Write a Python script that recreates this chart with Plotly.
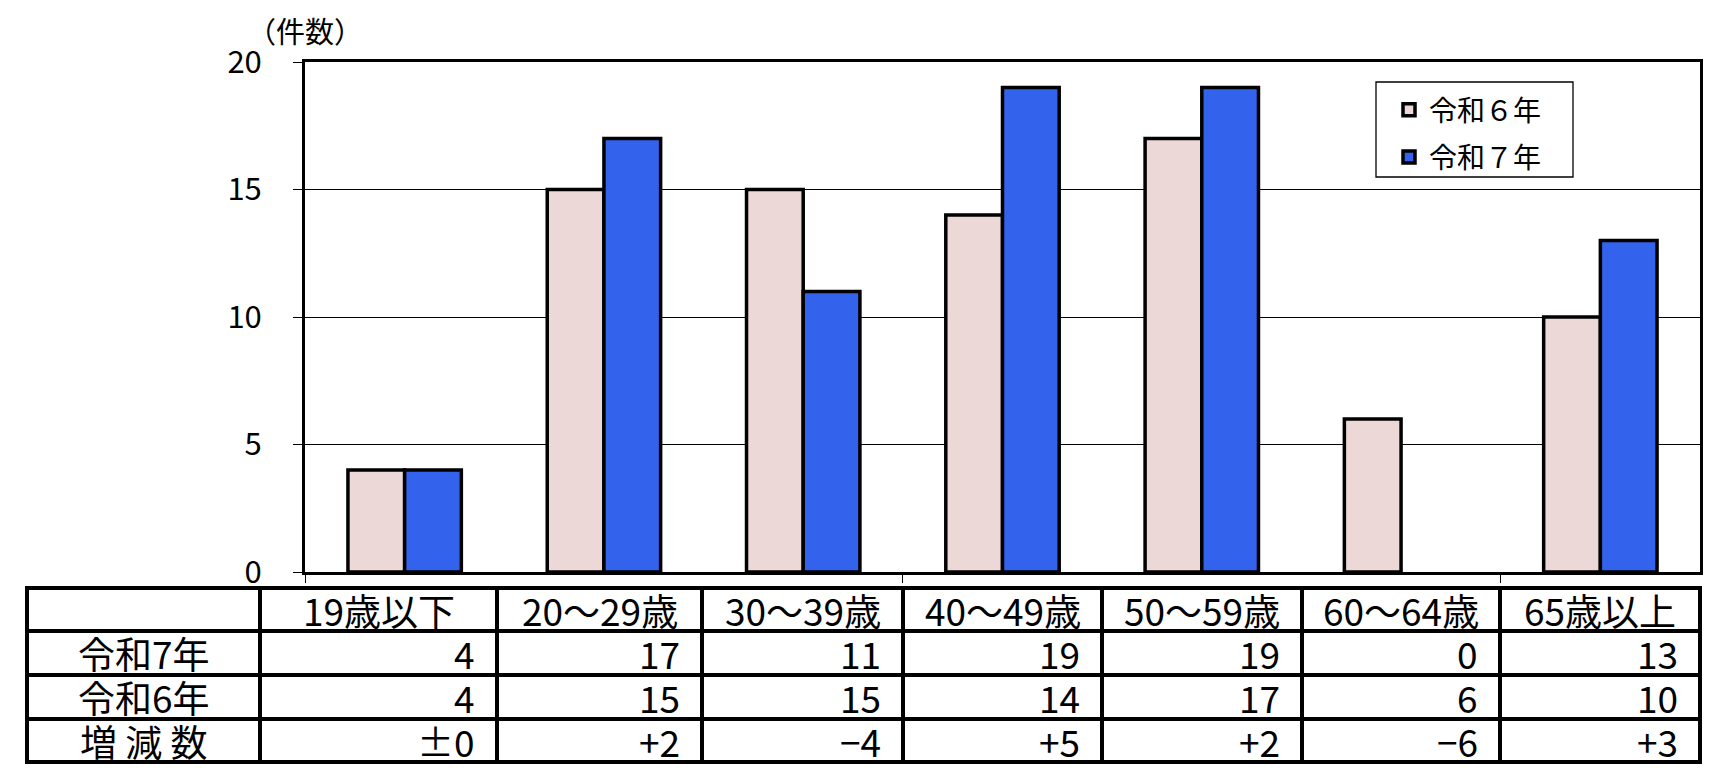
import plotly.graph_objects as go

# ---------------- data ----------------
categories = ["19歳以下", "20～29歳", "30～39歳", "40～49歳", "50～59歳", "60～64歳", "65歳以上"]
r6_values = [4, 15, 15, 14, 17, 6, 10]
r7_values = [4, 17, 11, 19, 19, 0, 13]
series_names = ["令和６年", "令和７年"]
row_labels = ["令和7年", "令和6年", "増 減 数"]
y_ticks = [0, 5, 10, 15, 20]
y_unit_label = "（件数）"

# ---------------- style / layout constants ----------------
OFF = 8                       # browser body margin
W, H = 1732 - 2 * OFF, 780 - 2 * OFF
# plot-area box in page pixels
PL, PR, PT, PB = 305, 1700, 62, 572
FONT = "Noto Sans CJK JP"
PINK = "#ECD9D7"
BLUE = "#3363EC"

# table geometry (page pixels)
col_edges = [27, 260, 497, 702, 903, 1102, 1302, 1500, 1700]
row_edges = [588, 631, 675, 719, 762]
legend_box = (1376, 82, 1573, 177)


def px(xp):
    return (xp - PL) / (PR - PL)


def py(yp):
    return (PB - yp) / (PB - PT)


def fmt_diff(d):
    if d == 0:
        return "±0"
    if d > 0:
        return "+" + str(d)
    return "−" + str(-d)


diff_values = [fmt_diff(a - b) for a, b in zip(r7_values, r6_values)]


def outline_widths(vals):
    return [3.5 if v > 0 else 0 for v in vals]


fig = go.Figure()
fig.add_trace(go.Bar(
    x=categories, y=r6_values, name=series_names[0], legendgroup="a",
    marker=dict(color=PINK, line=dict(color="black", width=outline_widths(r6_values))),
))
fig.add_trace(go.Bar(
    x=categories, y=r7_values, name=series_names[1], legendgroup="b",
    marker=dict(color=BLUE, line=dict(color="black", width=outline_widths(r7_values))),
))

fig.update_layout(
    width=W, height=H,
    margin=dict(l=PL - OFF, r=W - (PR - OFF), t=PT - OFF, b=H - (PB - OFF), pad=0),
    paper_bgcolor="white", plot_bgcolor="white",
    barmode="group", bargap=0.431, bargroupgap=0,
    font=dict(family=FONT, color="black"),
    showlegend=True,
    legend=dict(
        x=px(1389), y=py(85), xanchor="left", yanchor="top",
        bgcolor="rgba(0,0,0,0)", borderwidth=0,
        font=dict(family=FONT, size=28, color="black"),
        tracegroupgap=8, itemwidth=30,
    ),
    xaxis=dict(
        type="category", range=[-0.5, len(categories) - 0.5],
        showline=True, linecolor="black", linewidth=3, mirror=True,
        showgrid=False, zeroline=False,
        tickmode="array", tickvals=[-0.5, 2.5, 5.5], ticktext=["", "", ""],
        ticks="outside", ticklen=8, tickwidth=1, tickcolor="black",
        showticklabels=False,
    ),
    yaxis=dict(
        range=[0, 20], tickmode="array", tickvals=y_ticks,
        showline=True, linecolor="black", linewidth=3, mirror=True,
        showgrid=True, gridcolor="black", gridwidth=1, zeroline=False,
        ticks="outside", ticklen=9, tickwidth=1, tickcolor="black",
        tickfont=dict(family=FONT, size=31, color="black"),
        ticklabelstandoff=25,
    ),
)

# unit label
fig.add_annotation(
    xref="paper", yref="paper", x=px(305), y=py(30),
    text=y_unit_label, showarrow=False, xanchor="center", yanchor="middle",
    font=dict(family=FONT, size=29, color="black"),
)

# ---------------- shapes: legend box + data table ----------------
shapes = [dict(type="rect", xref="paper", yref="paper", layer="above",
               x0=px(legend_box[0]), x1=px(legend_box[2]),
               y0=py(legend_box[1]), y1=py(legend_box[3]),
               line=dict(color="black", width=1.3), fillcolor="rgba(0,0,0,0)")]
for ye in row_edges:
    shapes.append(dict(type="line", xref="paper", yref="paper",
                       x0=px(col_edges[0] - 2), x1=px(col_edges[-1] + 2),
                       y0=py(ye), y1=py(ye),
                       line=dict(color="black", width=4)))
for xe in col_edges:
    shapes.append(dict(type="line", xref="paper", yref="paper",
                       x0=px(xe), x1=px(xe),
                       y0=py(row_edges[0] - 2), y1=py(row_edges[-1] + 2),
                       line=dict(color="black", width=4)))
fig.update_layout(shapes=shapes)

TFS = 37


def row_mid(i):
    return py((row_edges[i] + row_edges[i + 1]) / 2)


def cell_text(x, y, t, anchor):
    fig.add_annotation(xref="paper", yref="paper", x=x, y=y, text=t,
                       showarrow=False, xanchor=anchor, yanchor="middle",
                       height=40, valign="middle", borderpad=0,
                       font=dict(family=FONT, size=TFS, color="black"))


# header row
for j, cat in enumerate(categories):
    xc = (col_edges[j + 1] + col_edges[j + 2]) / 2
    cell_text(px(xc), row_mid(0), cat, "center")

# row labels
for i, lab in enumerate(row_labels):
    xc = (col_edges[0] + col_edges[1]) / 2
    cell_text(px(xc), row_mid(i + 1), lab, "center")

# values
rows = [[str(v) for v in r7_values], [str(v) for v in r6_values], diff_values]
for i, vals in enumerate(rows):
    for j, t in enumerate(vals):
        cell_text(px(col_edges[j + 2] - 21), row_mid(i + 1), t, "right")

fig.write_html("out.html")
